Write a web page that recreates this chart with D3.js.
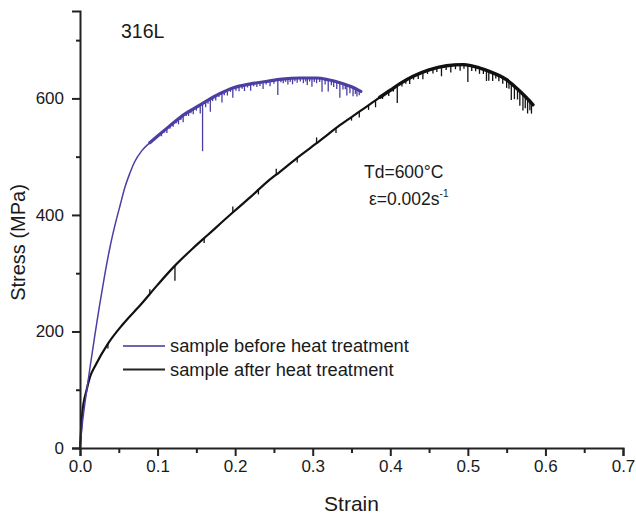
<!DOCTYPE html>
<html><head><meta charset="utf-8">
<script src="https://cdn.jsdelivr.net/npm/d3@7"></script>
<style>body{margin:0;background:#fff}svg{display:block}text{font-family:"Liberation Sans",Arial,sans-serif;fill:#1a1a1a}</style>
</head><body><svg id="c" width="636" height="517"></svg>
<script>
// ---- data ----
const xTicks = [0, 0.1, 0.2, 0.3, 0.4, 0.5, 0.6, 0.7];
const xTickLabels = ["0.0","0.1","0.2","0.3","0.4","0.5","0.6","0.7"];
const yTicks = [0, 200, 400, 600];
const yTickLabels = ["0","200","400","600"];
const seriesNames = ["sample before heat treatment", "sample after heat treatment"];

// sample before heat treatment: strain / stress (MPa)
const beforeStrain = [0,0.003,0.006,0.0086,0.012,0.0193,0.025,0.032,0.0387,0.045,0.052,0.058,0.0644,0.07,0.0795,0.09,0.1005,0.115,0.135,0.15,0.165,0.18,0.197,0.22,0.24,0.26,0.2835,0.305,0.32,0.335,0.35,0.362];
const beforeStress = [0,42,74,98,130,195,243,298,345,382,418,448,472,490,510,524,536,552,573,585,597,608,618,625,629,633,635,635,632,627,620,612];
// downward serration drops: strain, drop (MPa)
const beforeSpikeStrain = [0.105,0.109,0.112,0.116,0.12,0.124,0.127,0.13,0.133,0.137,0.14,0.143,0.146,0.15,0.155,0.158,0.162,0.165,0.168,0.171,0.175,0.179,0.183,0.186,0.19,0.194,0.197,0.201,0.205,0.209,0.212,0.216,0.22,0.224,0.228,0.232,0.236,0.24,0.245,0.25,0.255,0.259,0.262,0.265,0.268,0.271,0.274,0.277,0.28,0.284,0.288,0.291,0.293,0.296,0.299,0.302,0.305,0.309,0.312,0.316,0.32,0.324,0.327,0.331,0.335,0.339,0.342,0.344,0.348,0.352,0.355,0.357,0.36];
const beforeSpikeDrop  = [6,4,8,5,6,4,9,5,12,5,7,5,9,6,15,82,10,6,22,6,8,5,17,6,9,5,17,6,8,5,10,5,12,5,7,6,12,5,9,6,26,5,7,5,10,6,10,5,8,6,9,6,12,6,15,7,9,6,22,9,20,8,10,12,26,10,8,18,12,15,9,12,8];

// sample after heat treatment: strain / stress (MPa)
const afterStrain = [0,0.003,0.0086,0.0129,0.02,0.0365,0.055,0.0795,0.1,0.1224,0.145,0.165,0.1976,0.22,0.2405,0.2577,0.28,0.309,0.335,0.361,0.378,0.3866,0.40,0.412,0.4295,0.45,0.4725,0.494,0.5155,0.53,0.55,0.565,0.575,0.584];
const afterStress = [0,60,100,122,142,180,212,248,280,313,342,366,405,431,456,474,498,527,554,578,594,602,614,625,638,649,656,658,652,645,632,615,602,589];
const afterSpikeStrain = [0.036,0.09,0.1224,0.16,0.197,0.23,0.253,0.28,0.305,0.33,0.35,0.36,0.372,0.381,0.39,0.398,0.404,0.409,0.415,0.42,0.425,0.43,0.436,0.442,0.448,0.455,0.46,0.466,0.472,0.478,0.484,0.49,0.495,0.5,0.505,0.51,0.515,0.52,0.524,0.527,0.532,0.536,0.54,0.545,0.55,0.553,0.556,0.56,0.564,0.567,0.571,0.574,0.577,0.58,0.582];
const afterSpikeDrop  = [8,-8,26,8,-10,8,-10,8,-10,8,6,10,8,12,6,8,6,30,7,6,10,6,8,12,6,8,7,16,7,12,7,10,7,28,8,7,10,8,18,16,14,7,9,10,14,12,28,22,18,25,28,20,25,15,18];

// ---- drawing ----
const svg = d3.select("#c");
const x = d3.scaleLinear().domain([0, 0.7]).range([80, 623]);
const y = d3.scaleLinear().domain([0, 750]).range([448, 11]);

const blue = "#4a3fa3", black = "#111";

function drawSeries(sx, sy, spS, spD, color, w, noisyFrom, noisyW) {
  const pts = sx.map((s, i) => [s, sy[i]]);
  const line = d3.line().x(d => x(d[0])).y(d => y(d[1])).curve(d3.curveMonotoneX);
  svg.append("path").datum(pts)
    .attr("fill", "none").attr("stroke", color).attr("stroke-width", w)
    .attr("stroke-linejoin", "round").attr("d", line);
  svg.append("path").datum(pts.filter(p => p[0] >= noisyFrom))
    .attr("fill", "none").attr("stroke", color).attr("stroke-width", noisyW)
    .attr("stroke-linejoin", "round").attr("stroke-linecap", "round").attr("d", line);
  const base = s => {
    const i = Math.max(1, d3.bisectLeft(sx, s));
    const t = (s - sx[i-1]) / (sx[i] - sx[i-1]);
    return sy[i-1] + t * (sy[i] - sy[i-1]);
  };
  svg.append("g").selectAll("line").data(spS).join("line")
    .attr("x1", d => x(d)).attr("x2", d => x(d))
    .attr("y1", d => y(base(d))).attr("y2", (d, i) => y(base(d) - spD[i]))
    .attr("stroke", color).attr("stroke-width", 1.3);
}
drawSeries(afterStrain, afterStress, afterSpikeStrain, afterSpikeDrop, black, 2.2, 0.38, 3.4);
drawSeries(beforeStrain, beforeStress, beforeSpikeStrain, beforeSpikeDrop, blue, 1.5, 0.09, 3.2);

// axes
svg.append("g").attr("transform", "translate(0,448)")
  .call(d3.axisBottom(x).tickValues(xTicks).tickFormat((d, i) => xTickLabels[i]).tickSizeOuter(0).tickSize(8).tickPadding(4));
svg.append("g").attr("transform", "translate(0,448)")
  .call(d3.axisBottom(x).tickValues(d3.range(0.05, 0.7, 0.1)).tickFormat("").tickSizeOuter(0).tickSize(5))
  .select(".domain").remove();
svg.append("g").attr("transform", "translate(80,0)")
  .call(d3.axisLeft(y).tickValues(yTicks).tickFormat((d, i) => yTickLabels[i]).tickSizeOuter(0).tickSize(8).tickPadding(8));
svg.append("g").attr("transform", "translate(80,0)")
  .call(d3.axisLeft(y).tickValues([100, 300, 500, 700]).tickFormat("").tickSizeOuter(0).tickSize(4))
  .select(".domain").remove();
svg.selectAll(".domain").attr("stroke", "#222").attr("stroke-width", 2);
svg.selectAll(".tick line").attr("stroke", "#222").attr("stroke-width", 2);
svg.selectAll(".tick text").style("font-size", "17px").attr("fill", "#1a1a1a")
  .style("font-family", "'Liberation Sans',Arial,sans-serif");

// axis titles
svg.append("text").attr("x", 351.5).attr("y", 511).attr("text-anchor", "middle")
  .style("font-size", "21px").text("Strain");
svg.append("text").attr("transform", "translate(25,242.5) rotate(-90)").attr("text-anchor", "middle")
  .style("font-size", "20px").text("Stress (MPa)");

// annotations
svg.append("text").attr("x", 121).attr("y", 38).style("font-size", "19.5px").text("316L");
svg.append("text").attr("x", 364).attr("y", 178).style("font-size", "17.5px").text("Td=600°C");
const eps = svg.append("text").attr("x", 369).attr("y", 205).style("font-size", "17.5px");
eps.append("tspan").text("ε=0.002s");
eps.append("tspan").attr("dy", -8).style("font-size", "10px").text("-1");

// legend
const legColors = ["#6f64b0", "#222"];
seriesNames.forEach((n, i) => {
  const ly = 346 + i * 23.5;
  svg.append("line").attr("x1", 123).attr("x2", 165).attr("y1", ly).attr("y2", ly)
    .attr("stroke", legColors[i]).attr("stroke-width", 2);
  svg.append("text").attr("x", 170).attr("y", ly + 6).style("font-size", "18.3px").text(n);
});
</script></body></html>
